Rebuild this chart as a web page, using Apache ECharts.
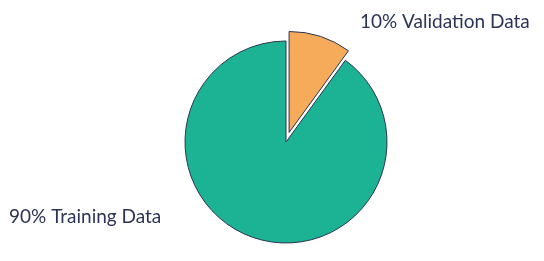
<!DOCTYPE html>
<html>
<head>
<meta charset="utf-8">
<script src="https://cdn.jsdelivr.net/npm/echarts@6/dist/echarts.min.js"></script>
<style>html,body{margin:0;padding:0;background:#fff}#c{width:544px;height:261px}</style>
</head>
<body>
<div id="c"></div>
<script>
const categories = ['Validation Data', 'Training Data'];
const values = [10, 90];
const colors = ['#f6ab5b', '#1bb394'];

const chart = echarts.init(document.getElementById('c'), null, {renderer: 'canvas'});
const labelSpots = [
  {x: 364, y: 19, align: 'left'},
  {x: 9, y: 217, align: 'left'}
];
chart.setOption({
  animation: false,
  series: [{
    type: 'pie',
    center: [286, 142],
    radius: [0, 101],
    startAngle: 90,
    clockwise: true,
    selectedMode: 'single',
    selectedOffset: 10,
    emphasis: {disabled: true},
    itemStyle: {borderColor: '#2b3553', borderWidth: 1},
    labelLine: {show: false},
    label: {
      show: true,
      position: 'outside',
      formatter: p => p.value + '% ' + p.name,
      fontFamily: 'Lato',
      fontSize: 19,
      fontWeight: 400,
      color: '#2b3456'
    },
    labelLayout: p => Object.assign({verticalAlign: 'middle'}, labelSpots[p.dataIndex]),
    data: categories.map((n, i) => ({
      name: n, value: values[i], selected: i === 0,
      itemStyle: {color: colors[i]}
    }))
  }]
});
</script>
</body>
</html>
